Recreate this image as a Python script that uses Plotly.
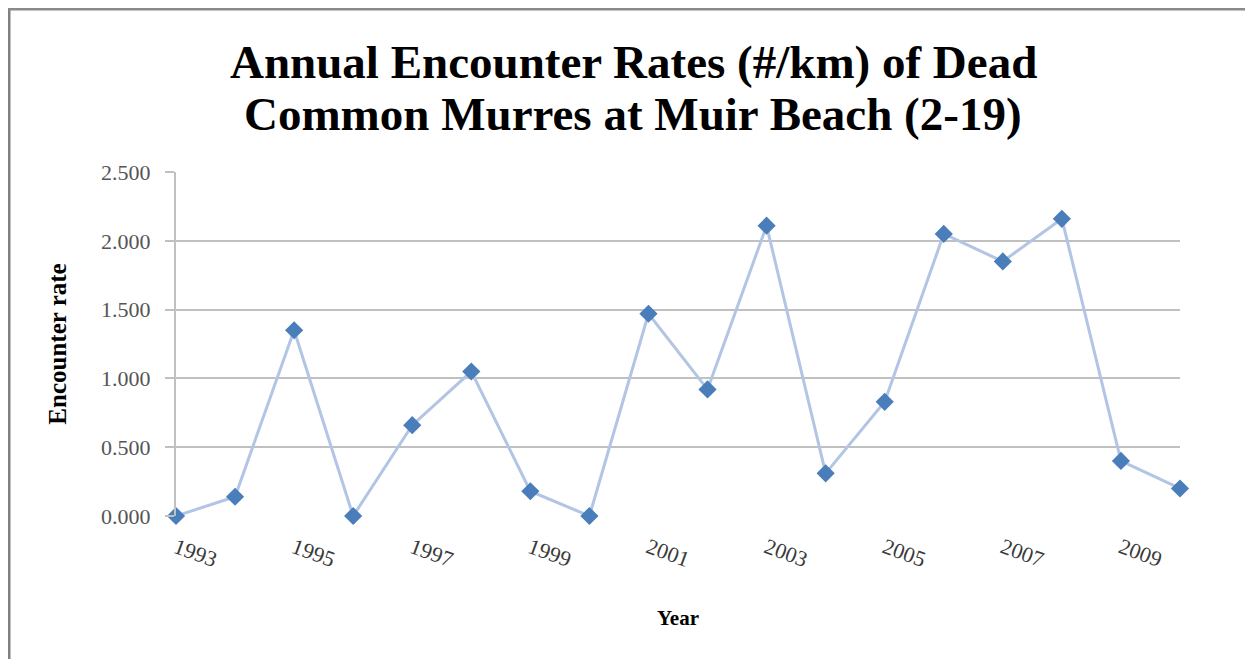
import plotly.graph_objects as go

years = [1993, 1994, 1995, 1996, 1997, 1998, 1999, 2000, 2001,
         2002, 2003, 2004, 2005, 2006, 2007, 2008, 2009, 2010]
rates = [0.00, 0.14, 1.35, 0.00, 0.66, 1.05, 0.18, 0.00, 1.47,
         0.92, 2.11, 0.31, 0.83, 2.05, 1.85, 2.16, 0.40, 0.20]
x_ticks = [1993, 1995, 1997, 1999, 2001, 2003, 2005, 2007, 2009]
y_ticks = [0, 0.5, 1.0, 1.5, 2.0, 2.5]
title_lines = ["Annual Encounter Rates (#/km) of Dead",
               "Common Murres at Muir Beach (2-19)"]

# page body has an 8px margin, so the figure is offset by 8px
OFF = 8
W, H = 1253 - OFF, 659 - OFF
ml, mr, mt, mb = 176 - OFF, 73, 172 - OFF, 143
pw, ph = W - ml - mr, H - mt - mb


def px_x(x):  # screenshot pixel -> paper x
    return (x - OFF - ml) / pw


def px_y(y):  # screenshot pixel -> paper y
    return 1 - (y - OFF - mt) / ph


fig = go.Figure()
fig.add_trace(go.Scatter(
    x=years, y=rates, mode="lines+markers",
    line=dict(color="#b3c5e4", width=3),
    marker=dict(symbol="diamond", size=14, color="#4a7ebb"),
    showlegend=False, cliponaxis=False,
))

serif = "Liberation Serif, Times New Roman, serif"

annotations = []
for i, (line, ypix) in enumerate(zip(title_lines, [62, 114])):
    annotations.append(dict(
        text="<b>" + line + "</b>", xref="paper", yref="paper",
        x=px_x(633), y=px_y(ypix), xanchor="center", yanchor="middle",
        showarrow=False, font=dict(family=serif, size=47, color="black"),
    ))

fig.update_layout(
    width=W, height=H,
    margin=dict(l=ml, r=mr, t=mt, b=mb),
    paper_bgcolor="white", plot_bgcolor="white",
    annotations=annotations,
    xaxis=dict(
        range=[1993, 2010], tickvals=x_ticks, ticktext=[str(v) for v in x_ticks],
        tickangle=20, showgrid=False, zeroline=False, showline=False,
        ticks="", ticklabelstandoff=14,
        tickfont=dict(family=serif, size=22, color="#3a3a3a"),
        title=dict(text="<b>Year</b>", font=dict(family=serif, size=21, color="black"), standoff=39),
    ),
    yaxis=dict(
        range=[0, 2.5], tickvals=y_ticks, tickformat=".3f",
        showgrid=True, gridcolor="#c0c0c0", gridwidth=2,
        zeroline=False, showline=True, linecolor="#c0c0c0", linewidth=2,
        ticks="outside", ticklen=9, tickcolor="#c0c0c0", tickwidth=2,
        ticklabelstandoff=10,
        tickfont=dict(family=serif, size=22, color="#555555"),
        title=dict(text="<b>Encounter rate</b>", font=dict(family=serif, size=25, color="black"), standoff=27),
    ),
    shapes=[
        dict(type="line", xref="paper", yref="paper",
             x0=px_x(9), x1=px_x(9), y0=px_y(659), y1=px_y(8),
             line=dict(color="#808080", width=3), layer="below"),
        dict(type="line", xref="paper", yref="paper",
             x0=px_x(8), x1=px_x(1253), y0=px_y(9), y1=px_y(9),
             line=dict(color="#8a8a8a", width=3), layer="below"),
        dict(type="line", xref="paper", yref="paper",
             x0=px_x(1250), x1=px_x(1250), y0=px_y(659), y1=px_y(10),
             line=dict(color="#e6e6e6", width=1), layer="below"),
    ],
)

fig.write_html("out.html")
